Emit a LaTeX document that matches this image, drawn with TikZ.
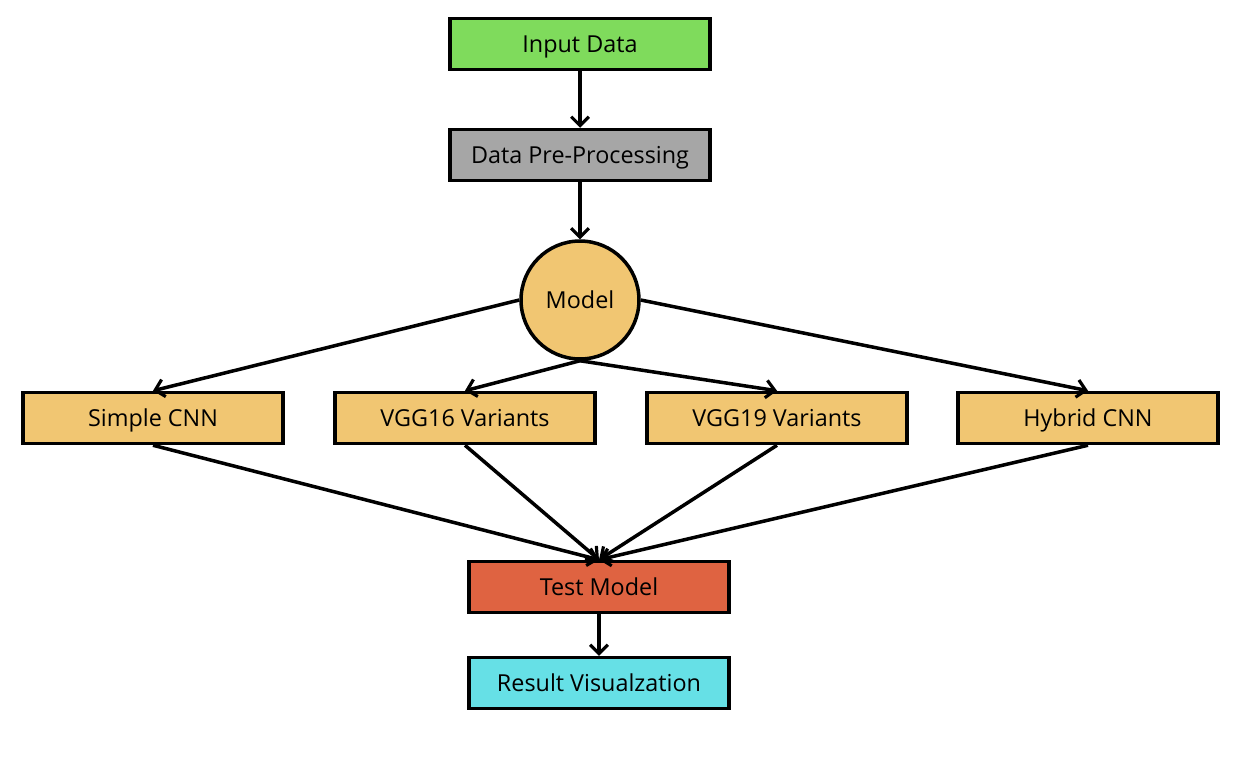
\documentclass[tikz,border=0pt]{standalone}
\usepackage{fontspec}
\setmainfont{Open Sans}
\usetikzlibrary{arrows.meta}
\definecolor{inputgreen}{HTML}{7FDB5C}
\definecolor{pregray}{HTML}{A6A6A6}
\definecolor{modelyellow}{HTML}{F1C672}
\definecolor{testred}{HTML}{DF6341}
\definecolor{resultcyan}{HTML}{66E0E6}
\begin{document}
\begin{tikzpicture}[x=0.02cm, y=-0.02cm,
    box/.style={draw, line width=2pt, minimum width=5.2cm, minimum height=1.02cm, inner sep=0pt, text height=11pt, text depth=1pt, font=\fontsize{13.3}{15}\selectfont},
    arr/.style={-{Straight Barb[length=5pt,width=10pt,line width=1.8pt]}, line width=2pt}]
            \useasboundingbox (0,0) rectangle (1252,765);
            \node[box, fill=inputgreen] (input) at (580,44) {Input Data};
            \node[box, fill=pregray] (prep) at (580,155) {Data Pre-Processing};
            \node[draw, circle, line width=2pt, fill=modelyellow, minimum size=2.36cm, inner sep=0pt, text height=11pt, text depth=1pt, font=\fontsize{13.3}{15}\selectfont] (model) at (580,300) {Model};
            \node[box, fill=modelyellow] (simple) at (153,418) {Simple CNN};
            \node[box, fill=modelyellow] (vggsix) at (465,418) {VGG16 Variants};
            \node[box, fill=modelyellow] (vggnine) at (777,418) {VGG19 Variants};
            \node[box, fill=modelyellow] (hybrid) at (1088,418) {Hybrid CNN};
            \node[box, fill=testred] (test) at (599,587) {Test Model};
            \node[box, fill=resultcyan] (result) at (599,683) {Result Visualzation};
            \draw[arr] (input)--(prep);
            \draw[arr] (prep)--(model);
            \draw[arr] (model.west)--(simple.north);
            \draw[arr] (model.south)--(vggsix.north);
            \draw[arr] (model.south)--(vggnine.north);
            \draw[arr] (model.east)--(hybrid.north);
            \foreach \Branch in {simple, vggsix, vggnine, hybrid}{
                \draw[arr] (\Branch.south)--(test.north);
            }
            \draw[arr] (test)--(result);
            \end{tikzpicture}
\end{document}
